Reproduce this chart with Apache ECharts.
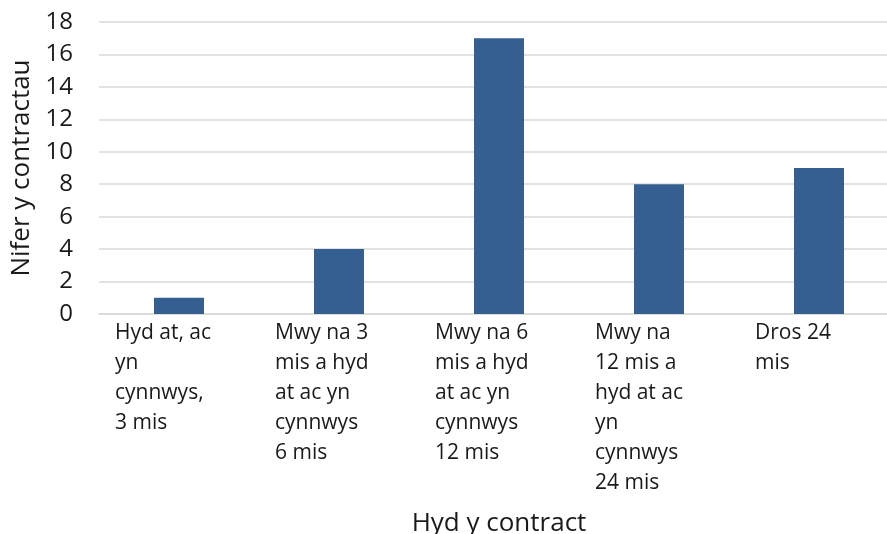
<!DOCTYPE html>
<html>
<head>
<meta charset="utf-8">
<script src="https://cdn.jsdelivr.net/npm/echarts@6/dist/echarts.min.js"></script>
<style>
  html,body{margin:0;padding:0;background:#fff;}
  #chart{width:887px;height:534px;}
</style>
</head>
<body>
<div id="chart"></div>
<script>
// category labels, wrapped as in the original
const categories = [
  'Hyd at, ac\nyn\ncynnwys,\n3 mis',
  'Mwy na 3\nmis a hyd\nat ac yn\ncynnwys\n6 mis',
  'Mwy na 6\nmis a hyd\nat ac yn\ncynnwys\n12 mis',
  'Mwy na\n12 mis a\nhyd at ac\nyn\ncynnwys\n24 mis',
  'Dros 24\nmis'
];
const contractCounts = [1, 4, 17, 8, 9];
const yTicks = { min: 0, max: 18, interval: 2 };

const FONT = '"Open Sans", "Noto Sans", sans-serif';
const textColor = '#1a1a1a';

const chart = echarts.init(document.getElementById('chart'));

const option = {
  animation: false,
  textStyle: { fontFamily: FONT },
  grid: { left: 99, top: 22, width: 800, bottom: 220, outerBoundsMode: 'none', containLabel: false },
  xAxis: {
    type: 'category',
    data: categories,
    name: 'Hyd y contract',
    nameLocation: 'middle',
    nameGap: 197,
    nameTextStyle: { fontSize: 26, color: textColor, fontFamily: FONT },
    axisLine: { lineStyle: { color: '#d9d9d9', width: 1.5 } },
    axisTick: { show: false },
    axisLabel: {
      interval: 0,
      margin: 4,
      color: textColor,
      fontFamily: FONT,
      formatter: function (v) {
        return v.split('\n').map(function (l) { return '{a|' + l + '}'; }).join('\n');
      },
      rich: {
        a: { width: 128, align: 'left', fontSize: 21, lineHeight: 30, color: textColor, fontFamily: FONT }
      }
    }
  },
  yAxis: {
    type: 'value',
    min: yTicks.min,
    max: yTicks.max,
    interval: yTicks.interval,
    name: 'Nifer y contractau',
    nameLocation: 'middle',
    nameGap: 63,
    nameRotate: 90,
    nameTextStyle: { fontSize: 26, color: textColor, fontFamily: FONT },
    axisLine: { show: false },
    axisTick: { show: false },
    axisLabel: { fontSize: 24, color: textColor, margin: 26, fontFamily: FONT },
    splitLine: { lineStyle: { color: '#d9d9d9', width: 1.5 } }
  },
  series: [{
    type: 'bar',
    data: contractCounts,
    barWidth: 50,
    itemStyle: { color: '#365f91' }
  }]
};

chart.setOption(option);
</script>
</body>
</html>
